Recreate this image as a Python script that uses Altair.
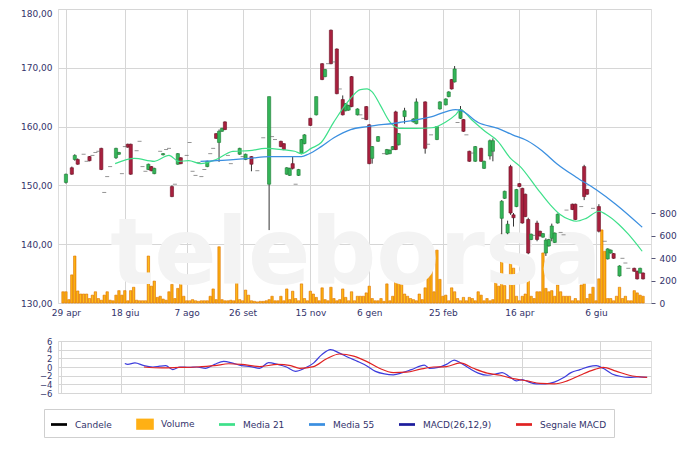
import altair as alt
import pandas as pd

# ---------------- data ----------------
# candles with a visible body: day index, open, high, low, close
c_idx = [1, 3, 4, 5, 9, 13, 18, 19, 22, 23, 29, 30, 31, 34, 37, 39, 40, 49, 52, 53,
         54, 55, 60, 62, 64, 70, 74, 75, 76, 77, 78, 80, 81, 82, 84, 86, 88, 89, 91, 93,
         95, 96, 97, 98, 100, 103, 104, 105, 107, 110, 111, 112, 113, 114, 116, 119, 120, 123, 127, 128,
         130, 131, 132, 133, 135, 136, 138, 140, 142, 143, 145, 146, 149, 150, 151, 152, 153, 154, 155, 156,
         157, 158, 159, 161, 162, 163, 164, 165, 166, 167, 168, 173, 174, 177, 178, 182, 185, 186, 187, 189,
         194, 195, 196, 197]
c_open = [150.5, 153.0, 154.4, 154.4, 154.9, 156.3, 154.7, 155.3, 157.0, 157.0, 152.7, 153.2, 152.0, 155.2, 149.8, 153.6, 154.7, 153.2, 158.8, 157.3,
          159.2, 160.8, 155.3, 154.4, 154.9, 150.2, 157.5, 157.1, 151.9, 151.7, 153.7, 151.7, 155.4, 157.1, 161.4, 162.0, 170.7, 168.5, 176.4, 173.2,
          164.6, 162.7, 162.8, 168.5, 162.0, 163.4, 160.3, 154.6, 157.5, 155.3, 155.4, 156.1, 162.5, 156.9, 161.7, 160.8, 160.5, 164.2, 157.8, 163.0,
          163.7, 165.1, 168.0, 167.6, 161.4, 161.2, 155.8, 154.1, 156.3, 152.9, 155.0, 155.8, 144.4, 147.8, 141.9, 153.2, 145.0, 146.4, 150.3, 149.5,
          148.5, 144.2, 140.8, 143.6, 142.2, 141.2, 138.5, 139.7, 141.0, 140.3, 143.6, 146.8, 146.8, 153.2, 149.3, 146.4, 137.5, 138.5, 138.4, 134.6,
          135.9, 135.4, 135.1, 135.1]
c_high = [152.0, 153.2, 155.3, 154.6, 155.0, 156.4, 156.4, 155.7, 157.1, 157.1, 153.7, 153.3, 153.0, 155.5, 150.0, 155.5, 154.8, 154.2, 158.9, 159.5,
          159.8, 160.9, 156.4, 155.4, 155.0, 165.1, 157.6, 157.2, 153.1, 153.0, 154.9, 152.8, 157.9, 158.7, 161.5, 165.1, 170.8, 169.8, 176.5, 173.3,
          165.3, 164.0, 163.7, 168.6, 163.1, 163.5, 160.4, 156.7, 158.4, 156.2, 156.1, 156.7, 162.7, 158.9, 163.2, 161.4, 164.8, 164.3, 160.1, 164.3,
          164.8, 166.0, 168.1, 170.3, 163.5, 161.3, 155.9, 156.7, 156.4, 154.2, 157.8, 158.0, 147.5, 149.1, 144.0, 153.5, 145.3, 149.4, 150.4, 149.6,
          148.6, 144.5, 141.8, 144.0, 142.3, 141.9, 141.0, 140.9, 143.5, 142.0, 145.2, 146.9, 146.9, 153.5, 149.4, 146.8, 139.3, 139.1, 138.5, 136.4,
          136.0, 135.5, 136.0, 135.2]
c_low = [150.3, 151.8, 154.2, 153.5, 154.1, 152.6, 154.5, 155.2, 156.4, 151.8, 152.6, 152.4, 151.9, 155.1, 148.0, 153.5, 153.6, 153.1, 157.9, 154.0,
         159.1, 159.4, 155.2, 154.3, 152.4, 142.4, 156.5, 156.0, 151.8, 151.6, 152.7, 151.6, 155.3, 157.0, 160.1, 161.9, 167.9, 168.4, 170.6, 165.5,
         161.9, 162.6, 162.7, 163.3, 161.9, 161.1, 153.6, 153.7, 157.4, 155.2, 155.3, 156.0, 156.0, 156.8, 160.5, 160.7, 160.4, 155.4, 157.7, 162.9,
         163.6, 165.0, 166.3, 167.5, 161.3, 159.1, 154.0, 154.0, 154.0, 152.8, 154.4, 154.1, 141.7, 147.7, 141.7, 145.0, 143.0, 146.3, 149.7, 143.5,
         144.6, 138.3, 140.7, 140.5, 141.3, 141.1, 138.0, 139.6, 140.5, 140.2, 143.5, 145.8, 144.1, 147.5, 148.4, 142.0, 137.4, 138.4, 137.5, 134.5,
         135.3, 134.0, 135.0, 134.0]
c_close = [151.9, 151.9, 155.1, 153.6, 154.2, 152.7, 156.3, 155.6, 156.5, 151.9, 153.6, 152.5, 152.9, 155.4, 148.1, 155.4, 153.7, 154.1, 158.0, 159.2,
           159.7, 159.5, 156.3, 155.3, 153.6, 165.1, 156.6, 156.1, 153.0, 152.9, 152.9, 152.7, 157.8, 158.6, 160.2, 165.1, 168.0, 169.7, 170.7, 165.6,
           162.0, 163.9, 163.6, 163.4, 163.0, 161.2, 153.7, 156.6, 158.3, 156.1, 156.0, 156.6, 156.1, 158.8, 162.7, 161.3, 164.2, 156.3, 160.0, 164.2,
           164.7, 165.9, 166.4, 169.8, 162.9, 159.2, 154.1, 156.6, 154.1, 154.1, 157.6, 157.6, 147.3, 149.0, 143.4, 145.3, 144.5, 149.3, 149.8, 143.6,
           144.7, 138.5, 141.7, 140.8, 141.4, 141.8, 140.7, 140.8, 143.1, 141.9, 145.1, 145.9, 144.2, 148.1, 148.5, 142.2, 139.2, 139.0, 137.6, 136.3,
           135.4, 134.1, 135.9, 134.1]

# flat sessions (open = close): day index, price
d_idx = [7, 8, 10, 11, 12, 14, 15, 16, 20, 21, 25, 26, 27, 28, 33, 35, 36, 38, 42, 43,
         44, 45, 46, 47, 48, 50, 51, 56, 57, 61, 66, 68, 71, 72, 79, 90, 92, 94, 101, 102,
         109, 115, 124, 125, 134, 137, 139, 160, 169, 170, 171, 176, 180, 184, 190, 191, 192]
d_val = [155.3, 154.1, 155.1, 155.6, 155.8, 148.8, 151.5, 153.2, 152.0, 156.6, 155.9, 157.5, 153.2, 152.4, 155.8, 156.1, 156.3, 150.2, 155.1, 157.3,
         152.4, 151.7, 153.9, 151.5, 152.7, 155.4, 156.3, 155.1, 153.7, 154.9, 152.5, 158.1, 158.3, 157.8, 150.2, 170.7, 171.0, 166.4, 162.0, 161.4,
         155.4, 159.7, 157.0, 158.6, 160.7, 158.6, 155.5, 141.5, 142.0, 141.6, 145.8, 146.4, 146.1, 140.5, 137.6, 136.8, 135.9]

# daily volume (thousands), day 0 .. 197
volume = [100, 100, 30, 250, 418, 107, 80, 80, 80, 40, 70, 100, 40, 25, 70, 100, 25, 20, 70, 110,
          70, 110, 20, 110, 140, 25, 20, 20, 20, 418, 150, 195, 50, 60, 35, 25, 100, 165, 40, 130,
          190, 60, 20, 20, 30, 20, 15, 20, 20, 20, 60, 125, 30, 500, 30, 20, 20, 25, 20, 400,
          30, 20, 115, 70, 20, 15, 10, 15, 15, 20, 30, 60, 20, 20, 60, 20, 125, 30, 105, 40,
          20, 170, 40, 20, 105, 80, 50, 20, 135, 30, 20, 140, 40, 20, 30, 125, 50, 20, 100, 20,
          60, 60, 60, 90, 150, 40, 20, 20, 40, 15, 170, 20, 60, 210, 195, 165, 80, 60, 40, 30,
          20, 80, 30, 135, 345, 330, 100, 470, 210, 60, 70, 20, 135, 100, 40, 20, 50, 20, 50, 40,
          20, 100, 70, 20, 40, 20, 30, 180, 150, 615, 155, 30, 355, 310, 60, 20, 60, 80, 380, 60,
          40, 100, 100, 445, 130, 100, 110, 60, 160, 100, 60, 60, 60, 20, 40, 20, 160, 285, 40, 80,
          140, 20, 215, 650, 460, 40, 40, 20, 60, 140, 40, 60, 20, 20, 110, 90, 70, 60]

ma21_idx = [17.7, 24.3, 31, 36, 39.3, 42.7, 46.7, 52, 57.7, 63.3, 68.7, 74.3, 78.7, 81, 84.3, 87.7, 92, 96.7, 101, 103.3,
            105, 107.7, 111, 114.3, 120, 125.3, 130, 133.3, 135, 138.7, 143.3, 147.7, 152, 155.3, 161, 165.3, 168.7, 172, 174.3, 177.7,
            182, 184.3, 188.7, 192, 196.7]
ma21_val = [153.7, 154.6, 154.1, 155.1, 154.1, 154.2, 153.7, 154.4, 155.8, 155.9, 156.3, 156.1, 155.8, 155.4, 156.3, 157.3, 160.8, 164.2, 166.3, 166.4,
            165.9, 163.7, 160.8, 159.7, 159.7, 159.8, 160.8, 162.0, 162.9, 161.2, 159.2, 157.5, 154.6, 153.2, 149.5, 146.8, 145.1, 144.2, 143.9, 144.4,
            145.6, 145.1, 143.4, 141.7, 138.8]

ma55_idx = [46.7, 52, 63.3, 70, 81, 83.3, 87.7, 92, 97.7, 103.3, 114.3, 125.3, 133.3, 135.3, 141, 147.7, 152.7, 157.7, 162.7, 167.7,
            174.3, 181, 187.7, 196.7]
ma55_val = [154.1, 154.2, 154.6, 154.9, 154.9, 155.3, 156.6, 158.1, 159.5, 160.0, 160.7, 161.7, 162.9, 162.7, 160.7, 159.7, 158.6, 157.6, 155.9, 153.7,
            151.4, 149.3, 146.8, 142.9]

macd_idx = [22.3, 23.3, 25.7, 28.7, 31.7, 34, 36, 38.3, 40.7, 43.7, 46.3, 49.3, 52.3, 55.3, 58.3, 61.3, 64.3, 67.3, 70.3, 73.3,
            76.3, 79.3, 82.3, 85.3, 88, 91, 94, 97, 100, 103, 106, 109, 112, 115, 118, 122.3, 124, 127, 129.7, 132.3,
            134.3, 137.3, 140.3, 143.3, 146.3, 148.3, 150.7, 153, 155, 157.3, 159.7, 162.7, 165.7, 168.7, 171.3, 174.3, 177.3, 179.7, 182, 185,
            188, 190.7, 193.7, 196.7]
macd_val = [0.8, 0.6, 0.95, 0.3, 0.0, 0.2, 0.3, -0.6, 0.0, -0.1, 0.0, -0.3, 0.6, 1.3, 0.9, 0.3, 0.1, -0.3, 1.0, 0.6,
            0.0, -1.0, -0.3, 0.9, 2.8, 4.0, 3.2, 2.2, 1.3, 0.3, -1.0, -1.6, -1.8, -1.3, -0.6, 0.45, -0.3, -0.1, 0.6, 1.6,
            1.0, -0.3, -1.4, -1.9, -1.6, -1.3, -2.2, -3.2, -2.9, -3.5, -3.9, -3.9, -3.5, -2.5, -1.3, -0.6, 0.1, 0.3, -0.3, -1.6,
            -2.2, -2.4, -2.3, -2.4]

sig_idx = [28.7, 34.7, 40.7, 46.3, 52.3, 57, 61.3, 67.3, 73.3, 77.7, 80.7, 85.3, 89.7, 94, 98.7, 103, 107.3, 112, 116.3, 121,
           125.3, 129.7, 134.3, 138.7, 143.3, 147.7, 152, 156.7, 161, 165.7, 170, 174.3, 179, 182, 186.3, 190.7, 196.7]
sig_val = [0.0, -0.2, -0.1, 0.0, 0.3, 0.75, 0.6, 0.1, 0.6, 0.3, -0.3, 0.1, 1.9, 3.0, 2.5, 1.3, -0.3, -1.3, -1.2, -0.5,
           0.0, 0.1, 0.95, -0.3, -1.4, -1.9, -2.7, -3.2, -3.8, -3.9, -3.2, -1.9, -0.6, -0.1, -0.95, -1.9, -2.4]

tick_idx = [1, 21, 42, 61, 84, 104, 129, 155, 181]
tick_lab = ["29 apr", "18 giu", "7 ago", "26 set", "15 nov", "6 gen", "25 feb", "16 apr", "6 giu"]

price_ticks = [130, 140, 150, 160, 170, 180]
vol_ticks = [0, 200, 400, 600, 800]
macd_ticks = [-6, -4, -2, 0, 2, 4, 6]

legend_names = ["Candele", "Volume", "Media 21", "Media 55", "MACD(26,12,9)", "Segnale MACD"]
legend_colors = ["#000000", "#ffb014", "#3ee08a", "#3b8fe0", "#1c1c9c", "#e02222"]

# ---------------- tables ----------------
candles = pd.DataFrame({"i": c_idx, "open": c_open, "high": c_high, "low": c_low, "close": c_close})
candles["kind"] = ["up" if c >= o else "down" for o, c in zip(c_open, c_close)]
flats = pd.DataFrame({"i": d_idx, "price": d_val})
vols = pd.DataFrame({"i": list(range(len(volume))), "vol": volume})
ma21 = pd.DataFrame({"i": ma21_idx, "v": ma21_val})
ma55 = pd.DataFrame({"i": ma55_idx, "v": ma55_val})
macd = pd.DataFrame({"i": macd_idx, "v": macd_val})
sig = pd.DataFrame({"i": sig_idx, "v": sig_val})
leg = pd.DataFrame({"name": legend_names})

FONT = "DejaVu Sans"
LBL = "#33336b"
GRID = "#d6d6d6"
W = 593
H = 294

label_expr = "[" + ",".join("'%s'" % s for s in tick_lab) + "][indexof([" + ",".join(str(t) for t in tick_idx) + "], datum.value)]"
xscale = alt.Scale(domain=[0, 198], nice=False, zero=False)
xaxis = alt.Axis(values=tick_idx, labelExpr=label_expr, title=None, grid=True, ticks=False, domain=False,
                 labelFont=FONT, labelFontSize=9, labelColor=LBL, labelPadding=5, gridColor=GRID)
X = alt.X("i:Q", scale=xscale, axis=xaxis)

pscale = alt.Scale(domain=[130, 180], nice=False, zero=False)
paxis = alt.Axis(values=price_ticks, labelExpr="replace(format(datum.value, '.2f'), '.', ',')", title=None,
                 grid=True, ticks=False, domain=False, labelFont=FONT, labelFontSize=9, labelColor=LBL,
                 labelBaseline=alt.condition("datum.value == %d" % max(price_ticks), alt.value("top"), alt.value("middle")),
                 labelPadding=6, gridColor=GRID, minExtent=44, maxExtent=44)


def Yp(f):
    return alt.Y(f, scale=pscale, axis=paxis)


watermark = alt.Chart(pd.DataFrame({"t": ["teleborsa"]})).mark_text(
    font=FONT, fontSize=92, fontWeight="bold", color="#f3f3f3", align="center", baseline="bottom"
).encode(text="t:N", x=alt.value(298), y=alt.value(H))

vol_grad = alt.Gradient(gradient="linear", x1=0, x2=1, y1=0, y2=0,
                        stops=[alt.GradientStop(color="#f28a00", offset=0),
                               alt.GradientStop(color="#ffc21a", offset=0.5),
                               alt.GradientStop(color="#f28a00", offset=1)])
vol_layer = alt.Chart(vols).mark_bar(size=2.4, fill=vol_grad, stroke="#e07a00", strokeWidth=0.6).encode(
    x=X,
    y=alt.Y("vol:Q", scale=alt.Scale(domain=[0, 2614], nice=False),
            axis=alt.Axis(orient="right", values=vol_ticks, title=None, grid=False, domain=False, ticks=True,
                          tickSize=4, tickColor="#555577", labelFont=FONT, labelFontSize=9, labelColor=LBL,
                          labelPadding=4)),
)

wicks = alt.Chart(candles).mark_rule(color="#333333", strokeWidth=1).encode(x=X, y=Yp("low:Q"), y2="high:Q")
bodies = alt.Chart(candles).mark_bar(size=3.2, strokeWidth=0.6).encode(
    x=X, y=Yp("open:Q"), y2="close:Q",
    fill=alt.Fill("kind:N", scale=alt.Scale(domain=["up", "down"], range=["#34b458", "#a8203e"]), legend=None),
    stroke=alt.Stroke("kind:N", scale=alt.Scale(domain=["up", "down"], range=["#1e7d36", "#6e1226"]), legend=None),
)
flat_ticks = alt.Chart(flats).mark_tick(orient="horizontal", size=4, thickness=1, color="#666666").encode(
    x=X, y=Yp("price:Q"))
ma21_line = alt.Chart(ma21).mark_line(color="#3ee08a", strokeWidth=1.2, interpolate="monotone").encode(x=X, y=Yp("v:Q"))
ma55_line = alt.Chart(ma55).mark_line(color="#3b8fe0", strokeWidth=1.3, interpolate="monotone").encode(x=X, y=Yp("v:Q"))

price_group = alt.layer(watermark, wicks, bodies, flat_ticks, ma21_line, ma55_line)
main = alt.layer(vol_layer, price_group).resolve_scale(y="independent").properties(width=W, height=H)

# MACD panel
mx_axis = alt.Axis(values=tick_idx, labels=False, title=None, grid=True, ticks=False, domain=False, gridColor=GRID)
MX = alt.X("i:Q", scale=xscale, axis=mx_axis)
mscale = alt.Scale(domain=[-6, 6], nice=False)
maxis = alt.Axis(values=macd_ticks, title=None, grid=True, ticks=False, domain=False, labelFont=FONT, labelFontSize=8.5,
                 labelColor=LBL, labelPadding=6, gridColor=GRID, minExtent=44, maxExtent=44, labelOverlap=False)
MY = alt.Y("v:Q", scale=mscale, axis=maxis)
macd_line = alt.Chart(macd).mark_line(color="#3d3ddc", strokeWidth=1.2, interpolate="monotone").encode(x=MX, y=MY)
sig_line = alt.Chart(sig).mark_line(color="#e02222", strokeWidth=1.2, interpolate="monotone").encode(x=MX, y=MY)

line_sym = "M-1,-0.17H1V0.17H-1Z"
box_sym = "M-1.1,-0.7H1.1V0.7H-1.1Z"
legend_layer = alt.Chart(leg).mark_point(filled=True, opacity=1).encode(
    x=alt.value(0), y=alt.value(0),
    color=alt.Color("name:N", scale=alt.Scale(domain=legend_names, range=legend_colors),
                    legend=alt.Legend(title=None, orient="none", legendX=-14, legendY=400, direction="horizontal",
                                      columns=6, labelFont=FONT, labelFontSize=9, labelColor=LBL,
                                      symbolSize=256, symbolStrokeWidth=0, columnPadding=24, labelOffset=8,
                                      padding=7, strokeColor="#cfcfcf", fillColor="#ffffff", symbolOpacity=1)),
    shape=alt.Shape("name:N", scale=alt.Scale(domain=legend_names,
                                              range=[line_sym, box_sym, line_sym, line_sym, line_sym, line_sym])),
).transform_filter("false")

macd_panel = alt.layer(macd_line, sig_line, legend_layer).properties(width=W, height=52)

chart = alt.vconcat(main, macd_panel, spacing=18).properties(
    padding={"left": 5, "top": 0, "right": 5, "bottom": 5}
).configure_view(stroke="#c4c4c4").configure(background="white")

chart.save("out.html", embed_options={"renderer": "svg", "actions": False})
